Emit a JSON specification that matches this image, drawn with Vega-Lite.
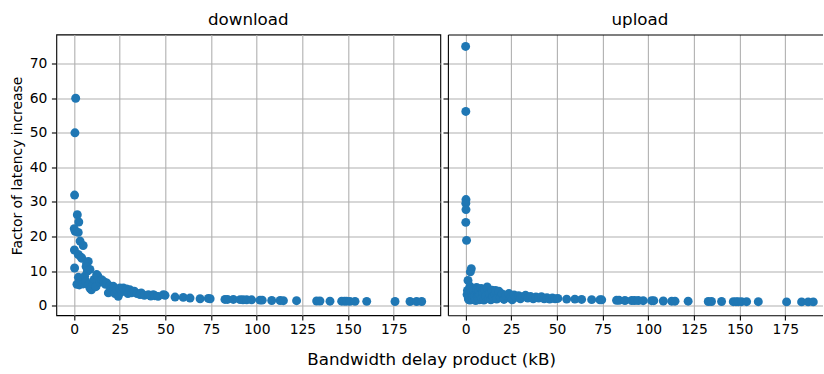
{
  "$schema": "https://vega.github.io/schema/vega-lite/v6.json",
  "background": "white",
  "padding": {"left": 9.3, "top": 11.5, "right": 0, "bottom": 6},
  "bounds": "flush",
  "spacing": 7.6,
  "config": {
    "font": "DejaVu Sans",
    "axis": {
      "labelFont": "DejaVu Sans",
      "labelFontSize": 13.9,
      "labelColor": "black",
      "tickColor": "black",
      "tickWidth": 1.1,
      "tickSize": 4.9,
      "gridColor": "#b0b0b0",
      "gridWidth": 1.1,
      "domain": false,
      "titleFont": "DejaVu Sans",
      "titleColor": "black",
      "titleFontWeight": "normal"
    },
    "axisX": {"labelPadding": 2.5},
    "axisY": {"labelPadding": 4.5},
    "title": {
      "font": "DejaVu Sans",
      "fontSize": 16.7,
      "fontWeight": "normal",
      "color": "black",
      "anchor": "middle",
      "frame": "group",
      "offset": 5.3
    }
  },
  "data": {
    "values": [
      {"d": "download", "bdp": 0.9, "f": 60},
      {"d": "download", "bdp": 0.5, "f": 50},
      {"d": "download", "bdp": 0.3, "f": 32},
      {"d": "download", "bdp": 0.1, "f": 22.3},
      {"d": "download", "bdp": 0.6, "f": 21.5},
      {"d": "download", "bdp": 0.2, "f": 16.1},
      {"d": "download", "bdp": 0.3, "f": 10.9},
      {"d": "download", "bdp": 1.8, "f": 26.3},
      {"d": "download", "bdp": 2.6, "f": 24.2},
      {"d": "download", "bdp": 2.3, "f": 21.2},
      {"d": "download", "bdp": 3.3, "f": 18.7},
      {"d": "download", "bdp": 5.0, "f": 17.4},
      {"d": "download", "bdp": 2.3, "f": 14.8},
      {"d": "download", "bdp": 3.9, "f": 14.0},
      {"d": "download", "bdp": 4.3, "f": 13.7},
      {"d": "download", "bdp": 7.8, "f": 12.8},
      {"d": "download", "bdp": 6.9, "f": 12.2},
      {"d": "download", "bdp": 6.6, "f": 11.3},
      {"d": "download", "bdp": 8.7, "f": 10.5},
      {"d": "download", "bdp": 7.3, "f": 10.0},
      {"d": "download", "bdp": 2.4, "f": 8.2},
      {"d": "download", "bdp": 3.5, "f": 7.6},
      {"d": "download", "bdp": 4.3, "f": 7.3},
      {"d": "download", "bdp": 1.6, "f": 6.2},
      {"d": "download", "bdp": 2.9, "f": 6.0},
      {"d": "download", "bdp": 5.0, "f": 6.3},
      {"d": "download", "bdp": 5.8, "f": 8.5},
      {"d": "download", "bdp": 6.5, "f": 7.0},
      {"d": "download", "bdp": 7.9, "f": 6.0},
      {"d": "download", "bdp": 8.7, "f": 5.1},
      {"d": "download", "bdp": 9.5, "f": 4.6},
      {"d": "download", "bdp": 10.5, "f": 6.3},
      {"d": "download", "bdp": 11.0, "f": 7.6},
      {"d": "download", "bdp": 12.4, "f": 9.0},
      {"d": "download", "bdp": 13.0, "f": 8.6},
      {"d": "download", "bdp": 12.0, "f": 5.5},
      {"d": "download", "bdp": 14.3, "f": 6.8},
      {"d": "download", "bdp": 15.1, "f": 7.5},
      {"d": "download", "bdp": 16.2, "f": 7.0},
      {"d": "download", "bdp": 17.2, "f": 6.2},
      {"d": "download", "bdp": 17.9, "f": 6.6},
      {"d": "download", "bdp": 18.8, "f": 3.7},
      {"d": "download", "bdp": 19.5, "f": 5.7},
      {"d": "download", "bdp": 20.5, "f": 5.2},
      {"d": "download", "bdp": 21.5, "f": 5.6},
      {"d": "download", "bdp": 22.4, "f": 3.5},
      {"d": "download", "bdp": 23.3, "f": 4.8},
      {"d": "download", "bdp": 24.2, "f": 2.7},
      {"d": "download", "bdp": 25.1, "f": 5.1},
      {"d": "download", "bdp": 26.0, "f": 4.0},
      {"d": "download", "bdp": 27.0, "f": 5.1},
      {"d": "download", "bdp": 28.8, "f": 4.8},
      {"d": "download", "bdp": 29.5, "f": 3.5},
      {"d": "download", "bdp": 30.5, "f": 4.6},
      {"d": "download", "bdp": 31.5, "f": 3.7},
      {"d": "download", "bdp": 33.0, "f": 4.2},
      {"d": "download", "bdp": 34.5, "f": 3.5},
      {"d": "download", "bdp": 36.1, "f": 3.2},
      {"d": "download", "bdp": 36.8, "f": 3.7},
      {"d": "download", "bdp": 38.5, "f": 3.0},
      {"d": "download", "bdp": 40.7, "f": 3.2},
      {"d": "download", "bdp": 42.0, "f": 2.8},
      {"d": "download", "bdp": 43.4, "f": 3.2},
      {"d": "download", "bdp": 44.2, "f": 2.9},
      {"d": "download", "bdp": 46.0, "f": 2.7},
      {"d": "download", "bdp": 48.9, "f": 3.2},
      {"d": "download", "bdp": 49.8, "f": 3.0},
      {"d": "download", "bdp": 55.3, "f": 2.5},
      {"d": "download", "bdp": 59.8, "f": 2.4},
      {"d": "download", "bdp": 63.5, "f": 2.2},
      {"d": "download", "bdp": 69.0, "f": 2.0},
      {"d": "download", "bdp": 73.5, "f": 2.1},
      {"d": "download", "bdp": 74.5, "f": 2.0},
      {"d": "download", "bdp": 82.6, "f": 1.8},
      {"d": "download", "bdp": 84.0, "f": 1.8},
      {"d": "download", "bdp": 87.2, "f": 1.8},
      {"d": "download", "bdp": 90.9, "f": 1.75},
      {"d": "download", "bdp": 92.5, "f": 1.7},
      {"d": "download", "bdp": 94.5, "f": 1.7},
      {"d": "download", "bdp": 97.2, "f": 1.7},
      {"d": "download", "bdp": 101.8, "f": 1.6},
      {"d": "download", "bdp": 103.0, "f": 1.6},
      {"d": "download", "bdp": 108.2, "f": 1.5},
      {"d": "download", "bdp": 112.8, "f": 1.5},
      {"d": "download", "bdp": 114.6, "f": 1.45},
      {"d": "download", "bdp": 121.8, "f": 1.45},
      {"d": "download", "bdp": 132.8, "f": 1.35},
      {"d": "download", "bdp": 134.6, "f": 1.35},
      {"d": "download", "bdp": 140.1, "f": 1.3},
      {"d": "download", "bdp": 146.5, "f": 1.3},
      {"d": "download", "bdp": 148.0, "f": 1.3},
      {"d": "download", "bdp": 149.2, "f": 1.3},
      {"d": "download", "bdp": 151.0, "f": 1.25},
      {"d": "download", "bdp": 153.8, "f": 1.25},
      {"d": "download", "bdp": 160.2, "f": 1.25},
      {"d": "download", "bdp": 175.7, "f": 1.2},
      {"d": "download", "bdp": 183.9, "f": 1.2},
      {"d": "download", "bdp": 187.5, "f": 1.2},
      {"d": "download", "bdp": 190.3, "f": 1.2},

      {"d": "upload", "bdp": 0.0, "f": 75},
      {"d": "upload", "bdp": 0.1, "f": 56.2},
      {"d": "upload", "bdp": 0.2, "f": 30.7},
      {"d": "upload", "bdp": 0.1, "f": 29.6},
      {"d": "upload", "bdp": 0.2, "f": 27.8},
      {"d": "upload", "bdp": 0.1, "f": 24.1},
      {"d": "upload", "bdp": 0.5, "f": 18.9},
      {"d": "upload", "bdp": 3.1, "f": 10.7},
      {"d": "upload", "bdp": 2.6, "f": 9.8},
      {"d": "upload", "bdp": 1.3, "f": 7.3},
      {"d": "upload", "bdp": 1.0, "f": 4.4},
      {"d": "upload", "bdp": 0.8, "f": 3.2},
      {"d": "upload", "bdp": 1.5, "f": 2.0},
      {"d": "upload", "bdp": 1.8, "f": 1.7},
      {"d": "upload", "bdp": 2.0, "f": 3.5},
      {"d": "upload", "bdp": 2.2, "f": 2.6},
      {"d": "upload", "bdp": 2.4, "f": 5.6},
      {"d": "upload", "bdp": 2.5, "f": 1.6},
      {"d": "upload", "bdp": 2.8, "f": 4.6},
      {"d": "upload", "bdp": 3.0, "f": 5.0},
      {"d": "upload", "bdp": 3.2, "f": 4.0},
      {"d": "upload", "bdp": 3.5, "f": 2.6},
      {"d": "upload", "bdp": 3.8, "f": 2.1},
      {"d": "upload", "bdp": 4.0, "f": 1.8},
      {"d": "upload", "bdp": 4.2, "f": 3.0},
      {"d": "upload", "bdp": 4.5, "f": 4.2},
      {"d": "upload", "bdp": 5.0, "f": 3.0},
      {"d": "upload", "bdp": 5.2, "f": 2.2},
      {"d": "upload", "bdp": 5.5, "f": 1.5},
      {"d": "upload", "bdp": 6.0, "f": 5.3},
      {"d": "upload", "bdp": 6.2, "f": 4.5},
      {"d": "upload", "bdp": 6.5, "f": 2.3},
      {"d": "upload", "bdp": 7.0, "f": 4.0},
      {"d": "upload", "bdp": 7.2, "f": 2.9},
      {"d": "upload", "bdp": 7.5, "f": 1.7},
      {"d": "upload", "bdp": 8.0, "f": 3.2},
      {"d": "upload", "bdp": 8.2, "f": 1.9},
      {"d": "upload", "bdp": 8.5, "f": 5.0},
      {"d": "upload", "bdp": 9.0, "f": 2.0},
      {"d": "upload", "bdp": 9.2, "f": 4.4},
      {"d": "upload", "bdp": 9.5, "f": 3.8},
      {"d": "upload", "bdp": 10.0, "f": 1.6},
      {"d": "upload", "bdp": 10.5, "f": 4.6},
      {"d": "upload", "bdp": 11.0, "f": 2.8},
      {"d": "upload", "bdp": 11.8, "f": 5.4},
      {"d": "upload", "bdp": 12.5, "f": 2.1},
      {"d": "upload", "bdp": 13.0, "f": 3.6},
      {"d": "upload", "bdp": 13.8, "f": 1.7},
      {"d": "upload", "bdp": 14.5, "f": 4.5},
      {"d": "upload", "bdp": 15.0, "f": 2.6},
      {"d": "upload", "bdp": 16.0, "f": 3.3},
      {"d": "upload", "bdp": 16.4, "f": 4.4},
      {"d": "upload", "bdp": 17.0, "f": 1.9},
      {"d": "upload", "bdp": 18.2, "f": 4.2},
      {"d": "upload", "bdp": 19.0, "f": 2.4},
      {"d": "upload", "bdp": 20.0, "f": 3.4},
      {"d": "upload", "bdp": 21.0, "f": 1.8},
      {"d": "upload", "bdp": 22.0, "f": 3.0},
      {"d": "upload", "bdp": 23.7, "f": 3.5},
      {"d": "upload", "bdp": 24.5, "f": 2.2},
      {"d": "upload", "bdp": 25.5, "f": 1.7},
      {"d": "upload", "bdp": 26.5, "f": 3.1},
      {"d": "upload", "bdp": 27.5, "f": 2.4},
      {"d": "upload", "bdp": 29.0, "f": 2.9},
      {"d": "upload", "bdp": 30.0, "f": 2.0},
      {"d": "upload", "bdp": 31.5, "f": 2.6},
      {"d": "upload", "bdp": 32.8, "f": 3.0},
      {"d": "upload", "bdp": 34.0, "f": 2.2},
      {"d": "upload", "bdp": 35.5, "f": 2.7},
      {"d": "upload", "bdp": 37.0, "f": 2.0},
      {"d": "upload", "bdp": 38.5, "f": 2.5},
      {"d": "upload", "bdp": 40.0, "f": 2.2},
      {"d": "upload", "bdp": 41.5, "f": 2.6},
      {"d": "upload", "bdp": 43.0, "f": 2.0},
      {"d": "upload", "bdp": 44.5, "f": 2.3},
      {"d": "upload", "bdp": 46.0, "f": 1.9},
      {"d": "upload", "bdp": 47.5, "f": 2.2},
      {"d": "upload", "bdp": 49.0, "f": 2.0},
      {"d": "upload", "bdp": 50.5, "f": 2.1},
      {"d": "upload", "bdp": 55.3, "f": 1.9},
      {"d": "upload", "bdp": 59.8, "f": 1.9},
      {"d": "upload", "bdp": 63.5, "f": 1.8},
      {"d": "upload", "bdp": 69.0, "f": 1.75},
      {"d": "upload", "bdp": 73.5, "f": 1.7},
      {"d": "upload", "bdp": 74.5, "f": 1.7},
      {"d": "upload", "bdp": 82.6, "f": 1.55},
      {"d": "upload", "bdp": 84.0, "f": 1.55},
      {"d": "upload", "bdp": 87.2, "f": 1.5},
      {"d": "upload", "bdp": 90.9, "f": 1.5},
      {"d": "upload", "bdp": 92.5, "f": 1.5},
      {"d": "upload", "bdp": 94.5, "f": 1.5},
      {"d": "upload", "bdp": 97.2, "f": 1.45},
      {"d": "upload", "bdp": 101.8, "f": 1.45},
      {"d": "upload", "bdp": 103.0, "f": 1.45},
      {"d": "upload", "bdp": 108.2, "f": 1.35},
      {"d": "upload", "bdp": 112.8, "f": 1.3},
      {"d": "upload", "bdp": 114.6, "f": 1.3},
      {"d": "upload", "bdp": 121.8, "f": 1.3},
      {"d": "upload", "bdp": 132.8, "f": 1.2},
      {"d": "upload", "bdp": 134.6, "f": 1.2},
      {"d": "upload", "bdp": 140.1, "f": 1.2},
      {"d": "upload", "bdp": 146.5, "f": 1.15},
      {"d": "upload", "bdp": 148.0, "f": 1.15},
      {"d": "upload", "bdp": 149.2, "f": 1.15},
      {"d": "upload", "bdp": 151.0, "f": 1.15},
      {"d": "upload", "bdp": 153.8, "f": 1.15},
      {"d": "upload", "bdp": 160.2, "f": 1.15},
      {"d": "upload", "bdp": 175.7, "f": 1.1},
      {"d": "upload", "bdp": 183.9, "f": 1.1},
      {"d": "upload", "bdp": 187.5, "f": 1.1},
      {"d": "upload", "bdp": 190.3, "f": 1.1}
    ]
  },
  "hconcat": [
    {
      "title": {"text": "download"},
      "width": 384,
      "height": 280.7,
      "view": {"stroke": "black", "strokeWidth": 1.1},
      "transform": [{"filter": "datum.d == 'download'"}],
      "mark": {"type": "circle", "size": 80, "opacity": 1, "color": "#1f77b4"},
      "encoding": {
        "x": {
          "field": "bdp",
          "type": "quantitative",
          "scale": {"domain": [-9.7, 200.48], "nice": false, "zero": false},
          "axis": {
            "values": [0, 25, 50, 75, 100, 125, 150, 175],
            "title": "Bandwidth delay product (kB)",
            "titleFontSize": 16.7,
            "titleX": 374.8,
            "titleY": 49.5,
            "titleAlign": "center",
            "titleBaseline": "alphabetic"
          }
        },
        "y": {
          "field": "f",
          "type": "quantitative",
          "scale": {"domain": [-2.75, 78.45], "nice": false, "zero": false},
          "axis": {
            "values": [0, 10, 20, 30, 40, 50, 60, 70],
            "title": "Factor of latency increase",
            "titleFontSize": 13.9,
            "titlePadding": 4.6,
            "titleY": 131
          }
        }
      }
    },
    {
      "title": {"text": "upload", "dx": 4.65},
      "width": 374.7,
      "height": 280.7,
      "view": {"stroke": null},
      "transform": [{"filter": "datum.d == 'upload'"}],
      "layer": [
        {
          "mark": {"type": "circle", "size": 80, "opacity": 1, "color": "#1f77b4"},
          "encoding": {
            "x": {
              "field": "bdp",
              "type": "quantitative",
              "scale": {"domain": [-9.7, 195.39], "nice": false, "zero": false},
              "axis": {
                "values": [0, 25, 50, 75, 100, 125, 150, 175],
                "title": null,
                "domain": true,
                "domainColor": "black",
                "domainWidth": 1.1
              }
            },
            "y": {
              "field": "f",
              "type": "quantitative",
              "scale": {"domain": [-2.75, 78.45], "nice": false, "zero": false},
              "axis": {
                "values": [0, 10, 20, 30, 40, 50, 60, 70],
                "labels": false,
                "title": null,
                "domain": true,
                "domainColor": "black",
                "domainWidth": 1.1
              }
            }
          }
        },
        {
          "mark": {"type": "circle", "opacity": 0},
          "encoding": {
            "x": {
              "field": "bdp",
              "type": "quantitative",
              "scale": {"domain": [-9.7, 195.39], "nice": false, "zero": false},
              "axis": {
                "orient": "top",
                "labels": false,
                "ticks": false,
                "grid": false,
                "title": null,
                "domain": true,
                "domainColor": "black",
                "domainWidth": 1.1
              }
            }
          }
        }
      ],
      "resolve": {"axis": {"x": "independent"}}
    }
  ]
}
